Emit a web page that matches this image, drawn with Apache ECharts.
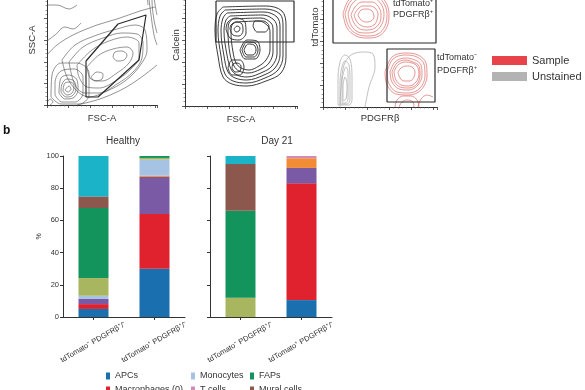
<!DOCTYPE html>
<html><head><meta charset="utf-8">
<script src="https://cdn.jsdelivr.net/npm/echarts@6/dist/echarts.min.js"></script>
<style>html,body{margin:0;padding:0;background:#fff}#c{width:585px;height:390px}</style>
</head><body><div id="c"></div>
<script>
// ---------- bar chart data (panel b) ----------
const categories = ['tdTomato⁻ PDGFRβ⁺/⁻', 'tdTomato⁺ PDGFRβ⁺/⁻'];
const groupTitles = ['Healthy', 'Day 21'];
const percentTicks = [0, 20, 40, 60, 80, 100];
// order: [Healthy tdT-, Healthy tdT+, Day21 tdT-, Day21 tdT+]
const apcs      = [5,    30,  0,    10.5];
const macro0    = [3,    34,  0,    72.5];
const macro1    = [3.2,  23,  0,    9.6];
const macro2    = [0,    0.8, 0,    6];
const monocytes = [2,    10,  0,    0];
const other1    = [11,   1,   12,   0];
const faps      = [43.5, 1.2, 54,   0];
const mural     = [7.2,  0,   29,   0];
const other2    = [25.1, 0,   5,    0];
const tcells    = [0,    0,   0,    1.4];
const seriesNames = ['APCs','Macrophages (0)','Macrophages (1)','Macrophages (2)','Monocytes','Other (1)','FAPs','Mural cells','Other (2)','T cells'];
const seriesValues = [apcs, macro0, macro1, macro2, monocytes, other1, faps, mural, other2, tcells];
const legendCols = [['APCs','Macrophages (0)'],['Monocytes','T cells'],['FAPs','Mural cells']];

// ---------- flow cytometry panels (arbitrary units) ----------
const fscGate = [[39,44],[39,8],[51,8],[92,45],[99,90],[71,81],[39,44]];
const fscContours = [
  [[18,15],[21,13],[24,16],[22,19],[18,15]],
  [[16,14],[20,10],[25,12],[27,18],[24,23],[18,22],[16,14]],
  [[14,13],[19,8],[25,9],[29,16],[27,24],[20,26],[15,21],[14,13]],
  [[12,12],[18,6],[26,7],[31,15],[30,25],[22,30],[14,27],[12,12]],
  [[8,10],[15,3],[28,3],[36,12],[36,28],[27,36],[14,34],[8,22],[8,10]],
  [[4,8],[14,1],[32,1],[42,10],[42,32],[30,42],[14,42],[5,30],[4,8]],
  [[0,2],[3,6],[6,3],[3,0]],
  [[0,50],[10,60],[26,70],[50,80],[70,86],[93,94],[108,98]],
  [[30,0],[53,6],[72,14],[86,22],[100,32],[110,40]],
  [[15,45],[28,60],[50,70],[70,76],[88,80],[98,75],[100,55],[92,38],[78,24],[60,14],[42,8],[30,14],[20,28],[15,45]],
  [[22,43],[36,58],[56,67],[75,72],[90,71],[96,62],[95,47],[86,33],[70,21],[52,12],[38,12],[28,20],[22,43]],
  [[30,40],[45,55],[62,64],[80,68],[92,62],[92,48],[84,36],[70,25],[52,17],[40,18],[32,28],[30,40]],
  [[40,38],[52,50],[66,56],[80,58],[86,52],[82,42],[70,32],[55,24],[44,26],[40,38]],
  [[66,48],[70,44],[77,45],[80,50],[75,54],[68,53],[66,48]],
  [[44,28],[48,24],[55,26],[56,31],[50,33],[44,28]],
  [[0,64],[8,70],[18,78],[26,76],[34,82]],
  [[8,130],[12,115],[25,108],[40,112],[55,120],[65,130]],
  [[0,100],[10,100],[22,96],[30,100]],
  [[103,130],[102,110],[104,90],[107,70],[110,60]],
  [[105,130],[105,105],[107,85],[110,72]],
  [[107,130],[107,110],[109,95],[110,90]],
  [[101,130],[100,115],[101,100]]
];
const calceinGate = [[31,105],[31,64],[109,64],[109,105],[31,105]];
const calceinContours = [
  [[38,99],[81,100],[97,95],[101,81],[101,49],[96,33],[81,25],[62,20],[47,22],[38,29],[33,50],[30,75],[32,92],[38,99]],
  [[40,96],[80,97],[95,92],[98,80],[98,50],[93,36],[80,28],[62,23],[48,25],[40,32],[36,50],[33,75],[35,90],[40,96]],
  [[42,93],[79,94],[92,89],[95,79],[95,51],[90,38],[79,31],[62,26],[50,28],[43,34],[39,50],[36,75],[38,88],[42,93]],
  [[45,90],[78,91],[89,86],[92,78],[92,52],[87,40],[78,34],[62,29],[52,31],[46,37],[42,51],[39,75],[41,86],[45,90]],
  [[48,87],[76,88],[86,83],[88,76],[88,54],[84,43],[76,37],[63,33],[54,35],[49,40],[45,52],[43,74],[44,83],[48,87]],
  [[51,84],[74,85],[83,80],[85,74],[85,56],[81,46],[74,40],[64,36],[56,38],[51,43],[48,54],[46,73],[47,81],[51,84]],
  [[49,77],[51,74],[54,75],[55,78],[52,80],[49,77]],
  [[45,77],[48,71],[54,70],[58,75],[57,82],[51,84],[46,81],[45,77]],
  [[41,77],[45,68],[54,66],[61,73],[60,84],[51,88],[43,84],[41,77]],
  [[59,56],[62,51],[68,51],[71,56],[69,61],[63,62],[59,56]],
  [[57,56],[61,49],[69,49],[73,56],[70,63],[62,64],[57,56]],
  [[55,56],[60,47],[70,47],[75,56],[72,65],[62,66],[55,56]],
  [[47,38],[50,34],[55,35],[56,40],[52,43],[48,42],[47,38]],
  [[43,38],[47,31],[55,31],[59,39],[55,46],[47,46],[43,38]],
  [[68,80],[72,74],[80,74],[84,80],[78,85],[70,85],[68,80]]
];
const tdtGateUpper = [[10,125],[10,64],[113,64],[113,125]];
const tdtGateLower = [[64,5],[64,58],[112,58],[112,5],[64,5]];
const sampleContours = [
  [[20,93],[24,79],[33,71],[44,69],[56,71],[64,80],[66,93],[62,106],[52,114],[36,114],[25,106],[20,93]],
  [[22,93],[26,80],[34,73],[44,71],[55,73],[62,81],[64,93],[60,105],[51,112],[37,112],[27,105],[22,93]],
  [[25,93],[28,82],[35,75],[44,74],[53,76],[59,83],[61,93],[58,103],[50,109],[38,109],[29,103],[25,93]],
  [[28,92],[31,84],[37,78],[44,77],[52,79],[57,85],[58,93],[55,101],[49,105],[39,105],[32,100],[28,92]],
  [[31,92],[34,85],[39,81],[45,80],[51,82],[54,87],[55,93],[52,99],[47,101],[40,101],[35,98],[31,92]],
  [[35,92],[38,87],[43,85],[48,86],[51,90],[49,96],[44,98],[38,97],[35,92]],
  [[62,35],[64,22],[73,13],[86,12],[98,17],[104,31],[103,44],[95,52],[82,54],[69,50],[62,35]],
  [[64,35],[66,23],[74,15],[86,14],[97,19],[102,31],[101,43],[94,50],[82,52],[70,48],[64,35]],
  [[67,35],[69,25],[76,18],[86,17],[95,22],[99,32],[98,42],[92,47],[82,49],[72,45],[67,35]],
  [[69,35],[71,26],[77,20],[86,19],[94,23],[97,32],[96,41],[90,45],[82,47],[74,44],[69,35]],
  [[71,35],[73,27],[78,22],[86,21],[93,25],[96,33],[94,41],[89,44],[82,45],[75,42],[71,35]],
  [[75,35],[77,29],[81,26],[87,26],[91,30],[92,35],[89,40],[83,41],[78,39],[75,35]],
  [[72,0],[74,7],[80,11],[88,11],[94,7],[96,0]],
  [[76,0],[79,5],[84,7],[90,5],[91,0]],
  [[95,0],[98,8],[104,12],[110,10]]
];
const unstainedContours = [
  [[17,0],[18,20],[21,42],[28,52],[40,55],[50,53],[52,40],[46,20],[42,0]],
  [[15,2],[15,25],[17,45],[22,52],[27,48],[29,30],[29,8],[26,2],[15,2]],
  [[17,3],[17,25],[19,40],[22,46],[26,42],[27,25],[27,8],[24,3],[17,3]],
  [[19,4],[19,25],[21,36],[23,40],[25,35],[25,20],[25,8],[22,4],[19,4]],
  [[20,6],[20,20],[22,30],[24,22],[23,8],[20,6]]
];

// ---------- styles ----------
const barColors = ['#1a6faf','#e0222f','#7a5aa5','#f28c34','#a7c3e3','#a8b660','#12945c','#8c574c','#1bb3c8','#d38ab4'];
const FONT = '"Liberation Sans", Arial, Helvetica, sans-serif';
const TXT = '#333';

function joinPolys(polys) {
  const out = [];
  polys.forEach((p, i) => { if (i) out.push(['-','-']); p.forEach(pt => out.push(pt)); });
  return out;
}
function contourSeries(name, grid, polys, color, width, opacity, smooth) {
  return { name, type: 'line', xAxisIndex: grid, yAxisIndex: grid, data: joinPolys(polys),
    showSymbol: false, symbol: 'none', smooth: smooth, connectNulls: false, silent: true,
    lineStyle: { color, width, opacity }, itemStyle: { color }, z: 2 };
}
function flowAxis(grid, max, interval, name, gap) {
  return { gridIndex: grid, type: 'value', min: 0, max, interval, name, nameLocation: 'middle', nameGap: gap,
    nameTextStyle: { fontSize: 9.5, color: TXT, fontFamily: FONT },
    axisLine: { show: true, lineStyle: { color: '#333', width: 1 } },
    axisTick: { show: true, length: 3, lineStyle: { color: '#333', width: 0.8 } },
    minorTick: { show: true, splitNumber: 5, length: 1.5, lineStyle: { color: '#555', width: 0.6 } },
    axisLabel: { show: false }, splitLine: { show: false }, minorSplitLine: { show: false } };
}
function pctAxis(grid, showLabels) {
  return { gridIndex: grid, type: 'value', min: 0, max: 100, interval: 20,
    name: showLabels ? '%' : '', nameLocation: 'middle', nameGap: 19,
    nameTextStyle: { fontSize: 7, color: TXT, fontFamily: FONT },
    axisLine: { show: true, lineStyle: { color: '#333', width: 1 } },
    axisTick: { show: true, length: 3, lineStyle: { color: '#333' } },
    axisLabel: { show: showLabels, fontSize: 7.5, color: TXT, margin: 4, fontFamily: FONT,
      formatter: v => percentTicks.includes(v) ? String(v) : '' },
    splitLine: { show: false } };
}
function catAxis(grid) {
  return { gridIndex: grid, type: 'category', data: categories,
    axisLine: { show: true, lineStyle: { color: '#333', width: 1 } },
    axisTick: { show: true, alignWithLabel: true, length: 3, lineStyle: { color: '#333' } },
    axisLabel: { rotate: 30, align: 'center', verticalAlign: 'middle', margin: 25,
      fontSize: 7.5, color: TXT, fontFamily: FONT, interval: 0 } };
}

const series = [
  contourSeries('fsc', 0, fscContours, '#4a4a4a', 0.7, 0.85, 0.35),
  contourSeries('fscGate', 0, [fscGate], '#2a2a2a', 1.2, 1, false),
  contourSeries('calcein', 1, calceinContours, '#262626', 1, 0.9, 0.35),
  contourSeries('calceinGate', 1, [calceinGate], '#2a2a2a', 1.2, 1, false),
  contourSeries('Unstained', 2, unstainedContours, '#a9a9a9', 0.8, 0.9, 0.35),
  contourSeries('Sample', 2, sampleContours, '#d8625e', 0.9, 0.75, 0.35),
  contourSeries('gate3a', 2, [tdtGateUpper], '#2a2a2a', 1.2, 1, false),
  contourSeries('gate3b', 2, [tdtGateLower], '#2a2a2a', 1.2, 1, false)
];
[0, 1].forEach(g => {
  seriesNames.forEach((n, i) => {
    series.push({ name: n, type: 'bar', stack: 'g' + g, xAxisIndex: 3 + g, yAxisIndex: 3 + g,
      barWidth: 30, data: seriesValues[i].slice(g * 2, g * 2 + 2),
      itemStyle: { color: barColors[i] }, silent: true });
  });
});

const legends = [{
  data: [{ name: 'Sample', icon: 'rect', itemStyle: { color: '#e8434b' } },
         { name: 'Unstained', icon: 'rect', itemStyle: { color: '#b3b3b3' } }],
  orient: 'vertical', left: 492, top: 55, height: 60, padding: 0, itemWidth: 35, itemHeight: 9, itemGap: 5,
  selectedMode: false, textStyle: { fontSize: 11, color: TXT, fontFamily: FONT, lineHeight: 11 }
}];
const legendLefts = [106, 191, 250];
legendCols.forEach((col, k) => {
  legends.push({ data: col.map(n => ({ name: n, icon: 'rect' })), orient: 'vertical',
    left: legendLefts[k], top: 371.5, height: 40, padding: 0, itemWidth: 4, itemHeight: 7, itemGap: 5,
    selectedMode: false, textStyle: { fontSize: 9, color: TXT, fontFamily: FONT, lineHeight: 9 } });
});

const gridBase = { outerBoundsMode: 'none', containLabel: false };
const option = {
  animation: false,
  backgroundColor: '#fff',
  textStyle: { fontFamily: FONT },
  title: [
    { text: 'b', left: 3, top: 125, padding: 0, textStyle: { fontSize: 12, fontWeight: 'bold', color: '#111', fontFamily: FONT } },
    { text: groupTitles[0], left: 123, top: 136, padding: 0, textAlign: 'center', textStyle: { fontSize: 10, fontWeight: 'normal', color: TXT, fontFamily: FONT } },
    { text: groupTitles[1], left: 277, top: 136, padding: 0, textAlign: 'center', textStyle: { fontSize: 10, fontWeight: 'normal', color: TXT, fontFamily: FONT } },
    { text: 'tdTomato⁺\nPDGFRβ⁺', left: 393, top: -2, padding: 0, textStyle: { fontSize: 9, lineHeight: 11, fontWeight: 'normal', color: TXT, fontFamily: FONT } },
    { text: 'tdTomato⁻\nPDGFRβ⁺', left: 437, top: 51, padding: 0, textStyle: { fontSize: 9, lineHeight: 13, fontWeight: 'normal', color: TXT, fontFamily: FONT } }
  ],
  legend: legends,
  grid: [
    Object.assign({ left: 47, top: -25, width: 110, height: 130 }, gridBase),
    Object.assign({ left: 185, top: -16, width: 112, height: 122 }, gridBase),
    Object.assign({ left: 323, top: -53, width: 114, height: 160 }, gridBase),
    Object.assign({ left: 63, top: 156, width: 122, height: 161 }, gridBase),
    Object.assign({ left: 210, top: 156, width: 122, height: 161 }, gridBase)
  ],
  xAxis: [
    flowAxis(0, 110, 21.6, 'FSC-A', 8),
    flowAxis(1, 112, 22, 'FSC-A', 8),
    flowAxis(2, 114, 22, 'PDGFRβ', 6),
    catAxis(3), catAxis(4)
  ],
  yAxis: [
    flowAxis(0, 130, 21.6, 'SSC-A', 10),
    flowAxis(1, 122, 22, 'Calcein', 4),
    flowAxis(2, 160, 22, 'tdTomato', 3),
    pctAxis(3, true), pctAxis(4, false)
  ],
  series
};
const chart = echarts.init(document.getElementById('c'), null, { renderer: 'canvas' });
chart.setOption(option);
</script></body></html>
